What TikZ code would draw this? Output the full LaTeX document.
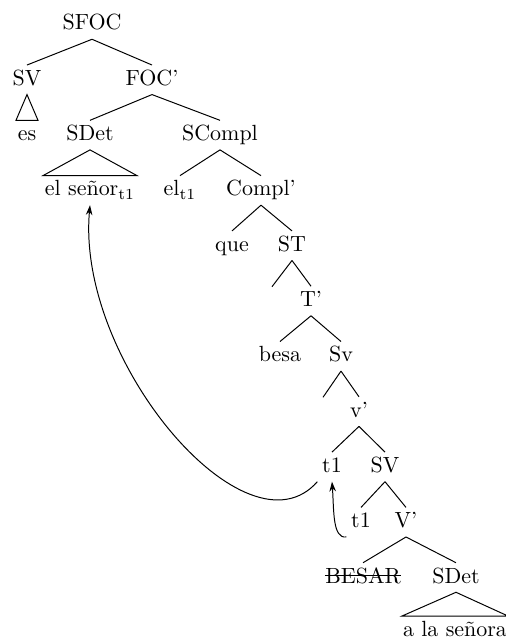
\documentclass[tikz,border=0pt]{standalone}
\usetikzlibrary{calc,arrows.meta}
\begin{document}
\begin{tikzpicture}[x=0.455pt,y=-0.455pt,
  lab/.style={text height=7pt,text depth=2pt,inner ysep=2pt,inner xsep=2pt},
  mv/.style={-{Stealth[length=4.5pt,width=3pt]},line width=0.45pt},
  every path/.style={line width=0.45pt}]
\useasboundingbox (0,0) rectangle (506,639);
% nodes
\node[lab] (sfoc) at (92,24.5) {SFOC};
\node[lab] (sv1) at (27,79.8) {SV};
\node[lab] (focp) at (152,79.8) {FOC'};
\node[lab] (es) at (27,135.1) {es};
\node[lab] (sdet1) at (90,135.1) {SDet};
\node[lab] (scompl) at (220,135.1) {SCompl};
\node[lab] (senor) at (90,190.4) {el señor\textsubscript{t1}};
\node[lab] (el) at (180,190.4) {el\textsubscript{t1}};
\node[lab] (complp) at (261,190.4) {Compl'};
\node[lab] (que) at (232,245.7) {que};
\node[lab] (st) at (292,245.7) {ST};
\coordinate (e1) at (272,286.7);
\node[lab] (tp) at (311,301) {T'};
\node[lab] (besa) at (280,356.3) {besa};
\node[lab] (svl) at (341,356.3) {Sv};
\coordinate (e2) at (323,397.3);
\node[lab] (vp) at (359,411.6) {v'};
\node[lab] (t1a) at (332,466.9) {t1};
\node[lab] (sv2) at (385,466.9) {SV};
\node[lab] (t1b) at (361,522.2) {t1};
\node[lab] (Vp) at (406,522.2) {V'};
\node[lab,inner xsep=0pt] (besar) at (363,577.5) {BESAR};
\node[lab] (sdet2) at (456,577.5) {SDet};
\node[lab] (ala) at (455,630.8) {a la señora};
% edges
\draw (sfoc.south) -- (sv1.north);
\draw (sfoc.south) -- (focp.north);
\draw (sv1.south) -- ($(es.north)+(-11,0)$) -- ($(es.north)+(11,0)$) -- cycle;
\draw (focp.south) -- (sdet1.north);
\draw (focp.south) -- (scompl.north);
\draw (sdet1.south) -- ($(senor.north)+(-47,0)$) -- ($(senor.north)+(47,0)$) -- cycle;
\draw (scompl.south) -- (el.north);
\draw (scompl.south) -- (complp.north);
\draw (complp.south) -- (que.north);
\draw (complp.south) -- (st.north);
\draw (st.south) -- (e1);
\draw (st.south) -- (tp.north);
\draw (tp.south) -- (besa.north);
\draw (tp.south) -- (svl.north);
\draw (svl.south) -- (e2);
\draw (svl.south) -- (vp.north);
\draw (vp.south) -- (t1a.north);
\draw (vp.south) -- (sv2.north);
\draw (sv2.south) -- (t1b.north);
\draw (sv2.south) -- (Vp.north);
\draw (Vp.south) -- (besar.north);
\draw (Vp.south) -- (sdet2.north);
\draw (sdet2.south) -- ($(ala.north)+(-53,0)$) -- ($(ala.north)+(53,0)$) -- cycle;
\draw ($(besar.west)+(0,-2.5)$) -- ($(besar.east)+(0,-2.5)$);
% movement arrows
\draw[mv] (t1b.south west) .. controls +(-14,2) and +(2,28) .. (t1a.south);
\draw[mv] (t1a.south west) .. controls +(-70,80) and +(-14,157) .. (senor.south);
\end{tikzpicture}
\end{document}
